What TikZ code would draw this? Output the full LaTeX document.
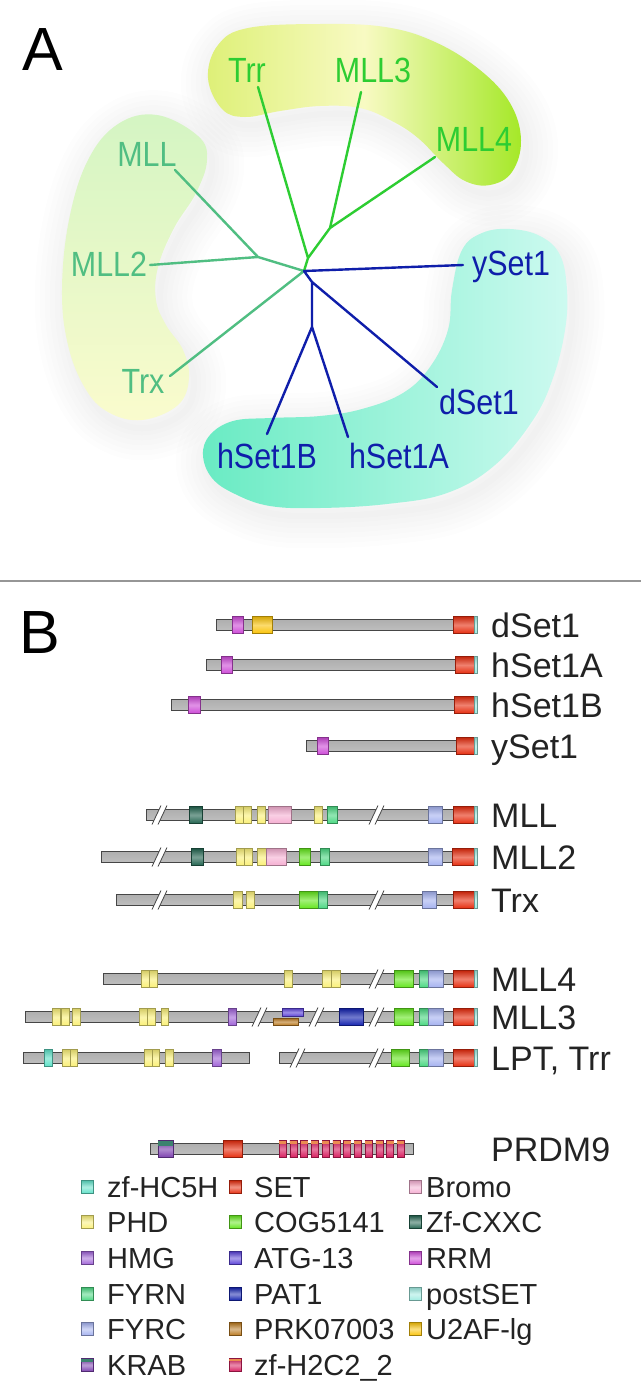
\documentclass[tikz,border=0pt]{standalone}
\usepackage{fontspec}
\setmainfont{Liberation Sans}
\newfontfamily\lblfontA{Liberation Sans}[FakeStretch=0.87]
\definecolor{grnA}{RGB}{45,205,50}
\definecolor{grnB}{RGB}{80,190,130}
\definecolor{bluA}{RGB}{15,30,170}
\definecolor{txtB}{RGB}{35,35,35}
\definecolor{topL}{RGB}{222,240,120}
\definecolor{topM}{RGB}{248,250,195}
\definecolor{topR}{RGB}{165,232,40}
\definecolor{leftT}{RGB}{212,245,195}
\definecolor{leftB}{RGB}{250,251,205}
\definecolor{blueL}{RGB}{105,235,195}
\definecolor{blueR}{RGB}{205,250,240}
\definecolor{barT}{RGB}{175,175,175}
\definecolor{barM}{RGB}{248,248,248}
\definecolor{barB}{RGB}{190,190,190}
\definecolor{barD}{RGB}{70,70,70}
\definecolor{zfhc}{RGB}{95,225,200}
\definecolor{setc}{RGB}{230,45,15}
\definecolor{bromo}{RGB}{245,175,210}
\definecolor{phd}{RGB}{250,240,120}
\definecolor{cog}{RGB}{100,230,30}
\definecolor{cxxc}{RGB}{35,100,80}
\definecolor{hmg}{RGB}{160,100,215}
\definecolor{atg}{RGB}{90,65,215}
\definecolor{rrm}{RGB}{205,75,215}
\definecolor{fyrn}{RGB}{75,215,130}
\definecolor{pat}{RGB}{20,35,175}
\definecolor{postset}{RGB}{160,235,225}
\definecolor{fyrc}{RGB}{165,178,240}
\definecolor{prk}{RGB}{185,120,30}
\definecolor{uaf}{RGB}{250,195,10}
\definecolor{krab}{RGB}{125,65,175}
\definecolor{krabtop}{RGB}{60,130,110}
\definecolor{zfh}{RGB}{215,30,95}
\definecolor{zfhtop}{RGB}{235,140,80}
\definecolor{sepc}{RGB}{150,150,150}

\newcommand\topblob{plot[smooth cycle, tension=0.65] coordinates {(208,78) (218,45) (248,28) (320,24) (385,27) (435,42) (480,70) (510,103) (521,140) (512,172) (490,185) (465,181) (443,163) (418,138) (392,121) (360,108) (320,106) (280,111) (245,117) (222,109)}}
\newcommand\leftblob{plot[smooth cycle, tension=0.65] coordinates {(157,115) (198,136) (207,160) (196,193) (174,228) (158,267) (156,300) (166,325) (183,350) (189,378) (178,405) (142,420) (108,412) (85,388) (68,345) (62,290) (69,220) (88,160) (118,124)}}
\newcommand\blueblob{plot[smooth cycle, tension=0.65] coordinates {(510,229) (540,236) (560,255) (567,290) (565,330) (553,378) (533,420) (495,465) (447,493) (387,504) (320,508) (270,506) (235,494) (212,478) (203,455) (210,435) (233,421) (270,418) (320,416) (362,409) (403,393) (430,367) (448,330) (452,290) (462,250) (482,233)}}

% protein bar: y x1 x2
\newcommand\pbar[3]{\shade[top color=barT, middle color=barM, bottom color=barB, draw=barD, line width=0.7pt] (#2,#1-5.5) rectangle (#3,#1+5.5);}
% domain: color y x1 x2
\newcommand\pdom[4]{\shade[top color=#1!85!black, bottom color=#1, middle color=#1!60!white, draw=#1!65!black, line width=0.5pt] (#3,#2-8.5) rectangle (#4,#2+8.5);}
% domain with explicit top/bottom: color ytop ybottom x1 x2
\newcommand\pdomh[5]{\shade[top color=#1!85!black, bottom color=#1, middle color=#1!60!white, draw=#1!65!black, line width=0.5pt] (#4,#2) rectangle (#5,#3);}
% break mark: y x
\newcommand\pbrk[2]{\fill[white] (#2-8,#1+9.5) -- (#2+1,#1-9.5) -- (#2+7,#1-9.5) -- (#2-2,#1+9.5) -- cycle;
 \draw[barD, line width=0.8pt] (#2-8,#1+9.5) -- (#2+1,#1-9.5) (#2-2,#1+9.5) -- (#2+7,#1-9.5);}
% legend square: color y x
\newcommand\lsq[3]{\shade[top color=#1!85!black, bottom color=#1, middle color=#1!50!white, draw=#1!65!black, line width=0.5pt] (#3,#2-6.5) rectangle (#3+12,#2+6.5);}

\begin{document}
\begin{tikzpicture}[x=1pt,y=-1pt,
  gA/.style={line width=2.4pt, draw=grnA, line cap=round, line join=round},
  gB/.style={line width=2.4pt, draw=grnB, line cap=round, line join=round},
  bA/.style={line width=2.4pt, draw=bluA, line cap=round, line join=round},
  lblA/.style={font=\lblfontA\fontsize{35}{40}\selectfont, inner sep=0pt, anchor=base},
  lblB/.style={font=\fontsize{34}{40}\selectfont, text=txtB, inner sep=0pt, anchor=base west},
  lgd/.style={font=\fontsize{29}{34}\selectfont, text=txtB, inner sep=0pt, anchor=base west},
  big/.style={font=\fontsize{61}{70}\selectfont, text=black, inner sep=0pt, anchor=base west}]
\useasboundingbox (0,0) rectangle (641,1392);
\fill[white] (0,0) rectangle (641,1392);

% ---------- Panel A ----------
\node[big] (labA) at (22,70) {A};

% soft shadows
\begin{scope}[shift={(5,8)}]
\foreach \w in {64,54,44,34,24,14,6} {
  \draw[black!60, opacity=0.011, line width=\w pt, line join=round] \topblob;
  \draw[black!60, opacity=0.011, line width=\w pt, line join=round] \leftblob;
  \draw[black!60, opacity=0.011, line width=\w pt, line join=round] \blueblob;
}
\end{scope}

\shade[left color=topL, right color=topR, middle color=topM] \topblob;
\shade[top color=leftT, bottom color=leftB] \leftblob;
\shade[left color=blueL, right color=blueR] \blueblob;

% tree coordinates
\coordinate (c) at (304,271);
\coordinate (j0) at (308,258);
\coordinate (j1) at (330,228);
\coordinate (j2) at (258,257);
\coordinate (j3) at (312,282);
\coordinate (j4) at (312,327);
\coordinate (eTrr) at (258,87);
\coordinate (eMLL3) at (361,92);
\coordinate (eMLL4) at (435,157);
\coordinate (eMLL) at (175,170);
\coordinate (eMLL2) at (150,265);
\coordinate (eTrx) at (170,376);
\coordinate (eY) at (463,265);
\coordinate (eD) at (437,387);
\coordinate (eHB) at (267,434);
\coordinate (eHA) at (348,437);

\draw[gB] (c) -- (j2) (j2) -- (eMLL) (j2) -- (eMLL2) (c) -- (eTrx);
\draw[gA] (c) -- (j0) (j0) -- (eTrr) (j0) -- (j1) (j1) -- (eMLL3) (j1) -- (eMLL4);
\draw[bA] (c) -- (eY) (c) -- (j3) (j3) -- (eD) (j3) -- (j4) (j4) -- (eHB) (j4) -- (eHA);

\node[lblA, text=grnA] (tTrr) at (247,82.5) {Trr};
\node[lblA, text=grnA] (tMLL3) at (373,82.5) {MLL3};
\node[lblA, text=grnA] (tMLL4) at (474,151.5) {MLL4};
\node[lblA, text=grnB] (tMLL) at (147,166.5) {MLL};
\node[lblA, text=grnB] (tMLL2) at (109,276.5) {MLL2};
\node[lblA, text=grnB] (tTrx) at (143,393.5) {Trx};
\node[lblA, text=bluA] (tY) at (511,275.5) {ySet1};
\node[lblA, text=bluA] (tD) at (479,414) {dSet1};
\node[lblA, text=bluA] (tHB) at (267,468.5) {hSet1B};
\node[lblA, text=bluA] (tHA) at (399,468.5) {hSet1A};

% separator
\draw[sepc, line width=1.5pt] (0,581) -- (641,581);

% ---------- Panel B ----------
\node[big] (labB) at (19,653) {B};

% dSet1
\pbar{625}{216}{474}
\pdom{rrm}{625}{232}{243}
\pdom{uaf}{625}{252}{272}
\pdom{setc}{625}{453}{474}
\pdomh{postset}{616.5}{633.5}{474}{477}
\node[lblB] (nD) at (491,637) {dSet1};
% hSet1A
\pbar{665}{206}{474}
\pdom{rrm}{665}{221}{232}
\pdom{setc}{665}{455}{474}
\pdomh{postset}{656.5}{673.5}{474}{477}
\node[lblB] (nHA) at (491,677) {hSet1A};
% hSet1B
\pbar{705}{171}{474}
\pdom{rrm}{705}{188}{200}
\pdom{setc}{705}{454}{474}
\pdomh{postset}{696.5}{713.5}{474}{477}
\node[lblB] (nHB) at (491,717) {hSet1B};
% ySet1
\pbar{746}{306}{474}
\pdom{rrm}{746}{317}{328}
\pdom{setc}{746}{456}{474}
\pdomh{postset}{737.5}{754.5}{474}{477}
\node[lblB] (nY) at (491,758) {ySet1};

% MLL
\pbar{815}{146}{474}
\pbrk{815}{160}
\pbrk{815}{377}
\pdom{cxxc}{815}{189}{202}
\pdom{phd}{815}{235}{243}
\pdom{phd}{815}{243}{251}
\pdom{phd}{815}{257}{265}
\pdom{bromo}{815}{268}{291}
\pdom{phd}{815}{314}{322}
\pdom{fyrn}{815}{327}{337}
\pdom{fyrc}{815}{428}{442}
\pdom{setc}{815}{453}{474}
\pdomh{postset}{806.5}{823.5}{474}{477}
\node[lblB] (nMLL) at (491,827) {MLL};
% MLL2
\pbar{857}{101}{474}
\pbrk{857}{160}
\pdom{cxxc}{857}{191}{203}
\pdom{phd}{857}{236}{244}
\pdom{phd}{857}{244}{252}
\pdom{phd}{857}{257}{266}
\pdom{bromo}{857}{266}{286}
\pdom{cog}{857}{299}{310}
\pdom{fyrn}{857}{320}{329}
\pdom{fyrc}{857}{428}{442}
\pdom{setc}{857}{452}{474}
\pdomh{postset}{848.5}{865.5}{474}{477}
\node[lblB] (nMLL2) at (491,869) {MLL2};
% Trx
\pbar{900}{116}{474}
\pbrk{900}{160}
\pbrk{900}{377}
\pdom{phd}{900}{233}{242}
\pdom{phd}{900}{246}{254}
\pdom{cog}{900}{299}{318}
\pdom{fyrn}{900}{318}{327}
\pdom{fyrc}{900}{422}{436}
\pdom{setc}{900}{453}{474}
\pdomh{postset}{891.5}{908.5}{474}{477}
\node[lblB] (nTrx) at (491,912) {Trx};

% MLL4
\pbar{979}{103}{474}
\pbrk{979}{377}
\pdom{phd}{979}{141}{149}
\pdom{phd}{979}{149}{157}
\pdom{phd}{979}{284}{292}
\pdom{phd}{979}{322}{331}
\pdom{phd}{979}{331}{340}
\pdom{cog}{979}{394}{413}
\pdom{fyrn}{979}{419}{428}
\pdom{fyrc}{979}{428}{443}
\pdom{setc}{979}{453}{474}
\pdomh{postset}{970.5}{987.5}{474}{477}
\node[lblB] (nMLL4) at (491,991) {MLL4};
% MLL3
\pbar{1017}{25}{474}
\pbrk{1017}{260}
\pbrk{1017}{317}
\pbrk{1017}{377}
\pdom{phd}{1017}{52}{60}
\pdom{phd}{1017}{61}{69}
\pdom{phd}{1017}{72}{80}
\pdom{phd}{1017}{139}{147}
\pdom{phd}{1017}{147}{155}
\pdom{phd}{1017}{161}{168}
\pdom{hmg}{1017}{228}{236}
\pdomh{atg}{1008}{1016.5}{282}{303}
\pdomh{prk}{1018}{1025.5}{273}{298}
\pdom{pat}{1017}{339}{363}
\pdom{cog}{1017}{394}{413}
\pdom{fyrn}{1017}{419}{428}
\pdom{fyrc}{1017}{428}{443}
\pdom{setc}{1017}{453}{474}
\pdomh{postset}{1008.5}{1025.5}{474}{477}
\node[lblB] (nMLL3) at (491,1029) {MLL3};
% LPT, Trr
\pbar{1058}{23}{249}
\pbar{1058}{279}{474}
\pbrk{1058}{298}
\pbrk{1058}{377}
\pdom{zfhc}{1058}{44}{52}
\pdom{phd}{1058}{62}{70}
\pdom{phd}{1058}{70}{77}
\pdom{phd}{1058}{144}{152}
\pdom{phd}{1058}{152}{159}
\pdom{phd}{1058}{165}{173}
\pdom{hmg}{1058}{212}{221}
\pdom{cog}{1058}{391}{409}
\pdom{fyrn}{1058}{419}{428}
\pdom{fyrc}{1058}{428}{443}
\pdom{setc}{1058}{453}{474}
\pdomh{postset}{1049.5}{1066.5}{474}{477}
\node[lblB] (nLPT) at (491,1070) {LPT, Trr};

% PRDM9
\pbar{1149}{150}{413}
\pdom{krab}{1149}{158}{173}
\fill[krabtop] (158,1140.5) rectangle (173,1146);
\pdom{setc}{1149}{223}{242}
\foreach \i in {0,...,11} {
  \pdom{zfh}{1149}{279+\i*10.75}{286+\i*10.75}
  \fill[zfhtop] (279+\i*10.75,1140.5) rectangle (286+\i*10.75,1143.5);
}
\node[lblB] (nPRDM9) at (491,1161) {PRDM9};

% ---------- Legend ----------
\lsq{zfhc}{1187}{81}   \node[lgd] (lg1) at (107,1197.4) {zf-HC5H};
\lsq{phd}{1222}{81}    \node[lgd] (lg2) at (107,1232.4) {PHD};
\lsq{hmg}{1258}{81}    \node[lgd] (lg3) at (107,1268.4) {HMG};
\lsq{fyrn}{1294}{81}   \node[lgd] (lg4) at (107,1304.4) {FYRN};
\lsq{fyrc}{1329}{81}   \node[lgd] (lg5) at (107,1339.4) {FYRC};
\lsq{krab}{1365}{81}   \fill[krabtop] (81,1358.5) rectangle (93,1362);
\node[lgd] (lg6) at (107,1375.4) {KRAB};
\lsq{setc}{1187}{229}  \node[lgd] (lg7) at (254,1197.4) {SET};
\lsq{cog}{1222}{229}   \node[lgd] (lg8) at (254,1232.4) {COG5141};
\lsq{atg}{1258}{229}   \node[lgd] (lg9) at (254,1268.4) {ATG-13};
\lsq{pat}{1294}{229}   \node[lgd] (lg10) at (254,1304.4) {PAT1};
\lsq{prk}{1329}{229}   \node[lgd] (lg11) at (254,1339.4) {PRK07003};
\lsq{zfh}{1365}{229}   \fill[zfhtop] (229,1358.5) rectangle (241,1361);
\node[lgd] (lg12) at (254,1375.4) {zf-H2C2\_2};
\lsq{bromo}{1187}{409} \node[lgd] (lg13) at (426,1197.4) {Bromo};
\lsq{cxxc}{1222}{409}  \node[lgd] (lg14) at (426,1232.4) {Zf-CXXC};
\lsq{rrm}{1258}{409}   \node[lgd] (lg15) at (426,1268.4) {RRM};
\lsq{postset}{1294}{409} \node[lgd] (lg16) at (426,1304.4) {postSET};
\lsq{uaf}{1329}{409}   \node[lgd] (lg17) at (426,1339.4) {U2AF-lg};
\end{tikzpicture}
\end{document}
